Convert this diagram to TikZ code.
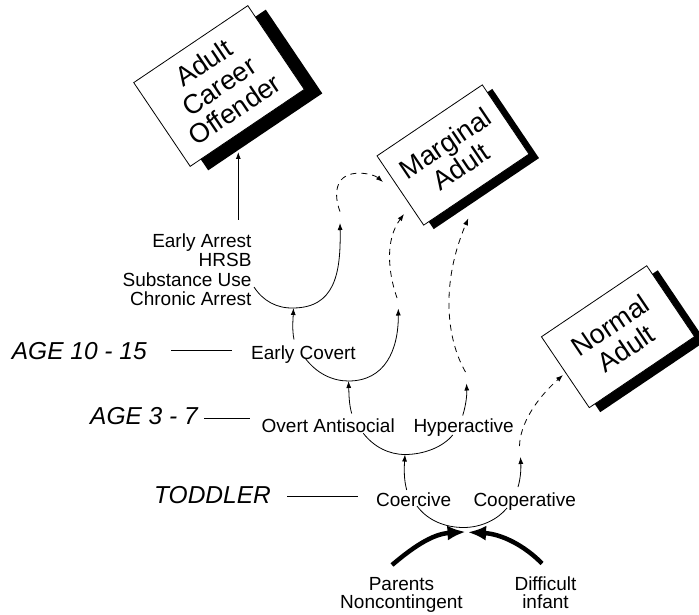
\documentclass[tikz,border=0pt]{standalone}
\usepackage{fontspec}
\setmainfont{Liberation Sans}
\usetikzlibrary{arrows.meta}

\begin{document}
\begin{tikzpicture}[x=1pt,y=-1pt,
  lab/.style={font=\fontsize{19}{20}\selectfont, inner sep=0pt},
  agelab/.style={font=\fontsize{24.5}{26}\selectfont\itshape, inner sep=0pt},
  outcome/.style={draw, line width=0.8pt, fill=white, rotate=34, align=center,
    font=\fontsize{27}{28}\selectfont, inner sep=0pt},
  shade/.style={fill=black, rotate=34, inner sep=0pt},
  link/.style={line width=0.8pt, -{Latex[length=7pt,width=5pt]}},
  dlink/.style={link, dash pattern=on 6pt off 5pt},
  bowl/.style={line width=0.8pt},
  rulelink/.style={line width=1pt},
  push/.style={line width=4.5pt, -{Latex[length=18pt,width=15pt]}, shorten >=-2pt}
]
\useasboundingbox (0,0) rectangle (699,615);

% outcome boxes with their black shadows
\node[shade, minimum width=137.6pt, minimum height=101pt] at (237,90) {};
\node[outcome, minimum width=137.6pt, minimum height=101pt] (career) at (219,86) {Adult\\Career\\Offender};

\node[shade, minimum width=127pt, minimum height=83.5pt] at (463,159) {};
\node[outcome, minimum width=127pt, minimum height=83.5pt] (marginal) at (453,155) {Marginal\\Adult};

\node[shade, minimum width=127pt, minimum height=85.5pt] at (629,341.2) {};
\node[outcome, minimum width=127pt, minimum height=85.5pt] (normal) at (618,336.7) {Normal\\Adult};

% stage labels
\node[lab, anchor=base east] (ea) at (251.7,247) {Early Arrest};
\node[lab, anchor=base east] (hrsb) at (251.7,266.5) {HRSB};
\node[lab, anchor=base east] (su) at (251.7,286) {Substance Use};
\node[lab, anchor=base east] (ca) at (251.7,305.5) {Chronic Arrest};

\node[lab, anchor=base west] (ec) at (251,359.3) {Early Covert};
\node[lab, anchor=base west] (oa) at (261.5,432) {Overt Antisocial};
\node[lab, anchor=base west] (hy) at (413.3,432) {Hyperactive};
\node[lab, anchor=base west] (co) at (376,506) {Coercive};
\node[lab, anchor=base west] (cp) at (473.3,506) {Cooperative};

\node[lab, anchor=base] (par) at (401.5,590.5) {Parents};
\node[lab, anchor=base] (nonc) at (401.5,608.8) {Noncontingent};
\node[lab, anchor=base] (diff) at (545.5,590.5) {Difficult};
\node[lab, anchor=base] (inf) at (545.5,608.8) {infant};

% age labels and their rules
\node[agelab, anchor=base west] (age1) at (11.7,359.3) {AGE 10 - 15};
\node[agelab, anchor=base west] (age2) at (90,424) {AGE 3 - 7};
\node[agelab, anchor=base west] (age3) at (154,503.3) {TODDLER};

\coordinate (r1a) at (171,350);   \coordinate (r1b) at (232,350);
\coordinate (r2a) at (204,418.7); \coordinate (r2b) at (250,418.7);
\coordinate (r3a) at (287,496.7); \coordinate (r3b) at (358,496.7);
\draw[rulelink] (r1a) -- (r1b);
\draw[rulelink] (r2a) -- (r2b);
\draw[rulelink] (r3a) -- (r3b);

% path points
\coordinate (careerin) at (238.3,152);
\coordinate (eatop) at (238.3,219.5);
\coordinate (u1a) at (254,287);
\coordinate (u1b) at (293.5,308);
\coordinate (u1c) at (340,223);
\coordinate (u1d) at (340,211.5);
\coordinate (m1) at (383,182);
\coordinate (ecup) at (294,339.5);
\coordinate (u2a) at (305,358);
\coordinate (u2b) at (348.5,381);
\coordinate (u2c) at (398.3,308.5);
\coordinate (u2d) at (397,298);
\coordinate (m2) at (404,214);
\coordinate (oaup) at (351.7,413.5);
\coordinate (u3a) at (363.3,433.3);
\coordinate (u3b) at (405,454.5);
\coordinate (u3c) at (452.7,435);
\coordinate (hyup) at (462.7,415.5);
\coordinate (hytip) at (466.5,383.5);
\coordinate (hyd) at (465.5,372);
\coordinate (m3) at (468.3,218.3);
\coordinate (coup) at (406.7,490);
\coordinate (u4a) at (417,506);
\coordinate (u4b) at (463.5,527.5);
\coordinate (u4c) at (507,508);
\coordinate (cpup) at (518,487);
\coordinate (cptip) at (520.5,457);
\coordinate (cpd) at (519.5,446);
\coordinate (n1) at (563,375);
\coordinate (pa) at (392,565);
\coordinate (pb) at (463.5,532);
\coordinate (da) at (542,563.5);
\coordinate (db) at (470,532.3);

% to the career box
\draw[link] (eatop) -- (careerin);

% upper bowl and its continuation to the marginal box
\draw[link] (u1a) .. controls (263,301) and (277,308.5) .. (u1b)
  .. controls (334,307.5) and (341,275) .. (u1c);
\draw[dlink] (u1d) .. controls (334,196) and (334,175) .. (356,173.3)
  .. controls (367,172.5) and (376,176) .. (m1);
\draw[link] (ecup) .. controls (292,330) and (293,320) .. (u1b);

% early covert bowl
\draw[link] (u2a) .. controls (317,374) and (333,381) .. (u2b)
  .. controls (385,381) and (398.5,350) .. (u2c);
\draw[dlink] (u2d) .. controls (388,272) and (385,240) .. (m2);
\draw[link] (oaup) .. controls (349,404) and (349,395) .. (u2b);

% overt antisocial / hyperactive bowl
\draw[bowl] (u3a) .. controls (374,447) and (389,454.5) .. (u3b)
  .. controls (424,454.5) and (443,447) .. (u3c);
\draw[link] (coup) .. controls (404,480) and (404,470) .. (u3b);
\draw[link] (hyup) .. controls (466,405) and (467,395) .. (hytip);
\draw[dlink] (hyd) .. controls (447,340) and (440,285) .. (m3);

% toddler bowl
\draw[bowl] (u4a) .. controls (428,521) and (446,527.5) .. (u4b)
  .. controls (482,527.5) and (498,519) .. (u4c);
\draw[link] (cpup) .. controls (521,477) and (521,467) .. (cptip);
\draw[dlink] (cpd) .. controls (520,425) and (535,400) .. (n1);

% early influences
\draw[push] (pa) .. controls (412,548) and (432,534) .. (pb);
\draw[push] (da) .. controls (525,546) and (502,534) .. (db);
\end{tikzpicture}
\end{document}
